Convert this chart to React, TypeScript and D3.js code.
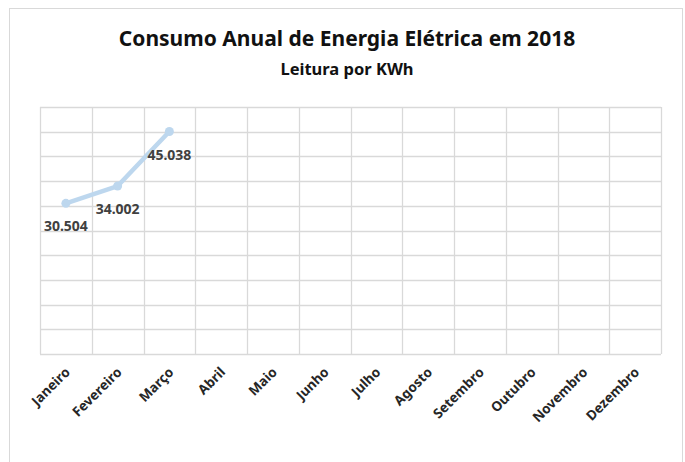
import { useEffect, useRef } from "react"
import * as d3 from "d3"

const months = [
  "Janeiro", "Fevereiro", "Março", "Abril", "Maio", "Junho",
  "Julho", "Agosto", "Setembro", "Outubro", "Novembro", "Dezembro",
]
// only the first three months have readings
const consumo: (number | null)[] = [30504, 34002, 45038, null, null, null, null, null, null, null, null, null]
const yTicks = [0, 5000, 10000, 15000, 20000, 25000, 30000, 35000, 40000, 45000, 50000]

const title = "Consumo Anual de Energia Elétrica em 2018"
const subtitle = "Leitura por KWh"

const W = 685
const H = 462

export default function App() {
  const svgRef = useRef<SVGSVGElement>(null)

  useEffect(() => {
    if (!svgRef.current) return
    const svg = d3.select(svgRef.current)
    svg.selectAll("*").remove()

    const margin = { top: 107, right: 24, bottom: 108, left: 40 }
    const innerW = W - margin.left - margin.right
    const innerH = H - margin.top - margin.bottom

    // outer chart frame (bottom runs past the picture)
    svg.append("rect")
      .attr("x", 9.5).attr("y", 8.5)
      .attr("width", 673).attr("height", 480)
      .attr("fill", "#fff")
      .attr("stroke", "#d9d9d9")

    svg.append("text")
      .attr("x", 347).attr("y", 46)
      .attr("text-anchor", "middle")
      .attr("font-family", "'Noto Sans', sans-serif")
      .attr("font-weight", "bold")
      .attr("font-size", 21)
      .attr("fill", "#111")
      .text(title)

    svg.append("text")
      .attr("x", 347).attr("y", 75)
      .attr("text-anchor", "middle")
      .attr("font-family", "'Noto Sans', sans-serif")
      .attr("font-weight", "bold")
      .attr("font-size", 16.5)
      .attr("fill", "#111")
      .text(subtitle)

    const x = d3.scaleBand().domain(months).range([0, innerW])
    const y = d3.scaleLinear().domain([0, 50000]).range([innerH, 0])

    const g = svg.append("g").attr("transform", `translate(${margin.left},${margin.top})`)

    // horizontal gridlines
    g.selectAll("line.hgrid")
      .data(yTicks)
      .enter()
      .append("line")
      .attr("class", "hgrid")
      .attr("x1", 0).attr("x2", innerW)
      .attr("y1", (d: number) => Math.round(y(d)) + 0.5)
      .attr("y2", (d: number) => Math.round(y(d)) + 0.5)
      .attr("stroke", "#d9d9d9")
      .attr("stroke-width", 1.3)

    // vertical gridlines at band edges
    const edges = months.map((m) => x(m) as number).concat([innerW])
    g.selectAll("line.vgrid")
      .data(edges)
      .enter()
      .append("line")
      .attr("class", "vgrid")
      .attr("x1", (d: number) => Math.round(d) + 0.5)
      .attr("x2", (d: number) => Math.round(d) + 0.5)
      .attr("y1", 0).attr("y2", innerH)
      .attr("stroke", "#d9d9d9")
      .attr("stroke-width", 1.3)

    const cx = (m: string) => (x(m) as number) + x.bandwidth() / 2
    const pts = months
      .map((m, i) => ({ m, v: consumo[i] }))
      .filter((d) => d.v != null) as { m: string; v: number }[]

    const line = d3.line<{ m: string; v: number }>()
      .x((d) => cx(d.m))
      .y((d) => y(d.v))

    g.append("path")
      .datum(pts)
      .attr("d", line)
      .attr("fill", "none")
      .attr("stroke", "#bdd7ee")
      .attr("stroke-width", 4.5)
      .attr("stroke-linejoin", "round")

    g.selectAll("circle.pt")
      .data(pts)
      .enter()
      .append("circle")
      .attr("class", "pt")
      .attr("cx", (d) => cx(d.m))
      .attr("cy", (d) => y(d.v))
      .attr("r", 4.5)
      .attr("fill", "#bdd7ee")

    // data labels below points, pt-BR thousands separator
    const fmt = d3.formatLocale({ decimal: ",", thousands: ".", grouping: [3], currency: ["R$", ""] }).format(",d")
    g.selectAll("text.lbl")
      .data(pts)
      .enter()
      .append("text")
      .attr("class", "lbl")
      .attr("x", (d) => cx(d.m))
      .attr("y", (d) => y(d.v) + 28)
      .attr("text-anchor", "middle")
      .attr("font-family", "'Noto Sans', sans-serif")
      .attr("font-weight", "bold")
      .attr("font-size", 14)
      .attr("fill", "#404040")
      .text((d) => fmt(d.v))

    // rotated month labels
    g.selectAll("text.month")
      .data(months)
      .enter()
      .append("text")
      .attr("class", "month")
      .attr("transform", (m: string) => `translate(${cx(m) + 5},${innerH + 19}) rotate(-45)`)
      .attr("text-anchor", "end")
      .attr("font-family", "'Noto Sans', sans-serif")
      .attr("font-weight", "bold")
      .attr("font-size", 13.5)
      .attr("fill", "#262626")
      .text((m: string) => m)
  }, [])

  return (
    <svg
      ref={svgRef}
      width={W}
      height={H}
      style={{ position: "absolute", left: 0, top: 0, background: "#fff" }}
    />
  )
}
